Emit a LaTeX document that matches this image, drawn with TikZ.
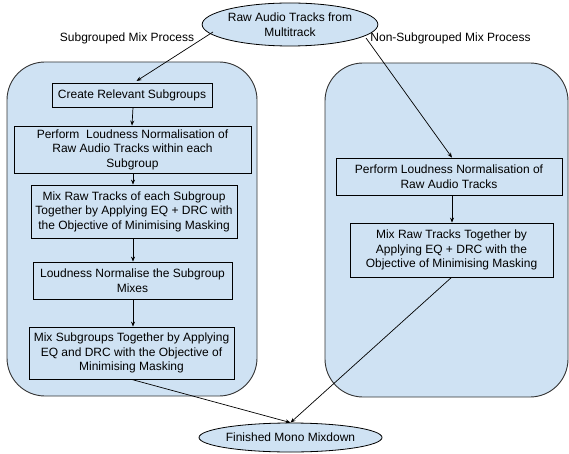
\documentclass[tikz,border=0pt]{standalone}
\usepackage{fontspec}
\setmainfont{Liberation Sans}
\usetikzlibrary{shapes.geometric,arrows.meta}
\definecolor{lblue}{HTML}{CFE2F3}
\definecolor{edge}{HTML}{333333}
\begin{document}
\begin{tikzpicture}[x=1pt,y=-1pt,
  every node/.style={font=\fontsize{12}{14.6}\selectfont},
  panel/.style={fill=lblue,draw=edge,line width=0.9pt,rounded corners=38pt},
  stepbox/.style={draw=black,fill=lblue,line width=0.8pt,align=center,inner xsep=1pt,inner ysep=1pt,anchor=center},
  oval/.style={ellipse,draw=black,fill=lblue,line width=0.8pt,align=center,inner sep=0pt},
  arr/.style={draw=black,line width=0.7pt,-{Stealth[length=5pt,width=4pt]}},
  lbl/.style={inner sep=0pt,anchor=center}]
\useasboundingbox (0,0) rectangle (569,454);
% panels
\draw[panel] (7,62) rectangle (257,396);
\draw[panel] (325,63) rectangle (568,397);
% ellipses
\node[oval,minimum width=140pt,minimum height=43pt] (raw) at (290,24.5) {Raw Audio Tracks from\\Multitrack};
\node[oval,minimum width=145pt,minimum height=29pt] (fin) at (290.5,437.5) {Finished Mono Mixdown};
% labels
\node[lbl] (lsub) at (127,38) {Subgrouped Mix Process};
\node[lbl] (lnon) at (450.5,38) {Non-Subgrouped Mix Process};
% left boxes
\node[stepbox,minimum width=160pt,minimum height=24pt] (b1) at (132,95) {Create Relevant Subgroups};
\node[stepbox,minimum width=237pt,minimum height=47pt] (b2) at (132.5,149.5) {Perform\ \ Loudness Normalisation of\\Raw Audio Tracks within each\\Subgroup};
\node[stepbox,minimum width=206pt,minimum height=53pt] (b3) at (134,211.5) {Mix Raw Tracks of each Subgroup\\Together by Applying EQ + DRC with\\the Objective of Minimising Masking};
\node[stepbox,minimum width=199pt,minimum height=37pt] (b4) at (132.5,280.5) {Loudness Normalise the Subgroup\\Mixes};
\node[stepbox,minimum width=205pt,minimum height=52pt] (b5) at (131.5,353) {Mix Subgroups Together by Applying\\EQ and DRC with the Objective of\\Minimising Masking};
% right boxes
\node[stepbox,minimum width=226pt,minimum height=37pt] (r1) at (449,176.5) {Perform Loudness Normalisation of\\Raw Audio Tracks};
\node[stepbox,minimum width=203pt,minimum height=54pt] (r2) at (451.5,250) {Mix Raw Tracks Together by\\Applying EQ + DRC with the\\Objective of Minimising Masking};
% connector start points
\coordinate (s1) at (213,32);
\coordinate (s2) at (366,38);
% connectors
\draw[arr,shorten >=3pt] (s1) -- ([xshift=2pt]b1.north);
\draw[arr] (s2) -- ([xshift=3pt]r1.north);
\draw[arr] ([xshift=1pt]b1.south) -- (b1.south |- b2.north);
\draw[arr] ([xshift=0.5pt]b2.south) -- ([xshift=0.5pt]b2.south |- b3.north);
\draw[arr] ([xshift=0.5pt]b2.south |- b3.south) -- ([xshift=0.5pt]b2.south |- b4.north);
\draw[arr] ([xshift=0.5pt]b2.south |- b4.south) -- ([xshift=0.5pt]b2.south |- b5.north);
\draw[arr] ([xshift=3pt]r1.south) -- ([xshift=3pt]r1.south |- r2.north);
\draw[arr] (b5.south) -- (fin.north);
\draw[arr] (r2.south) -- (fin.north);
\end{tikzpicture}
\end{document}
